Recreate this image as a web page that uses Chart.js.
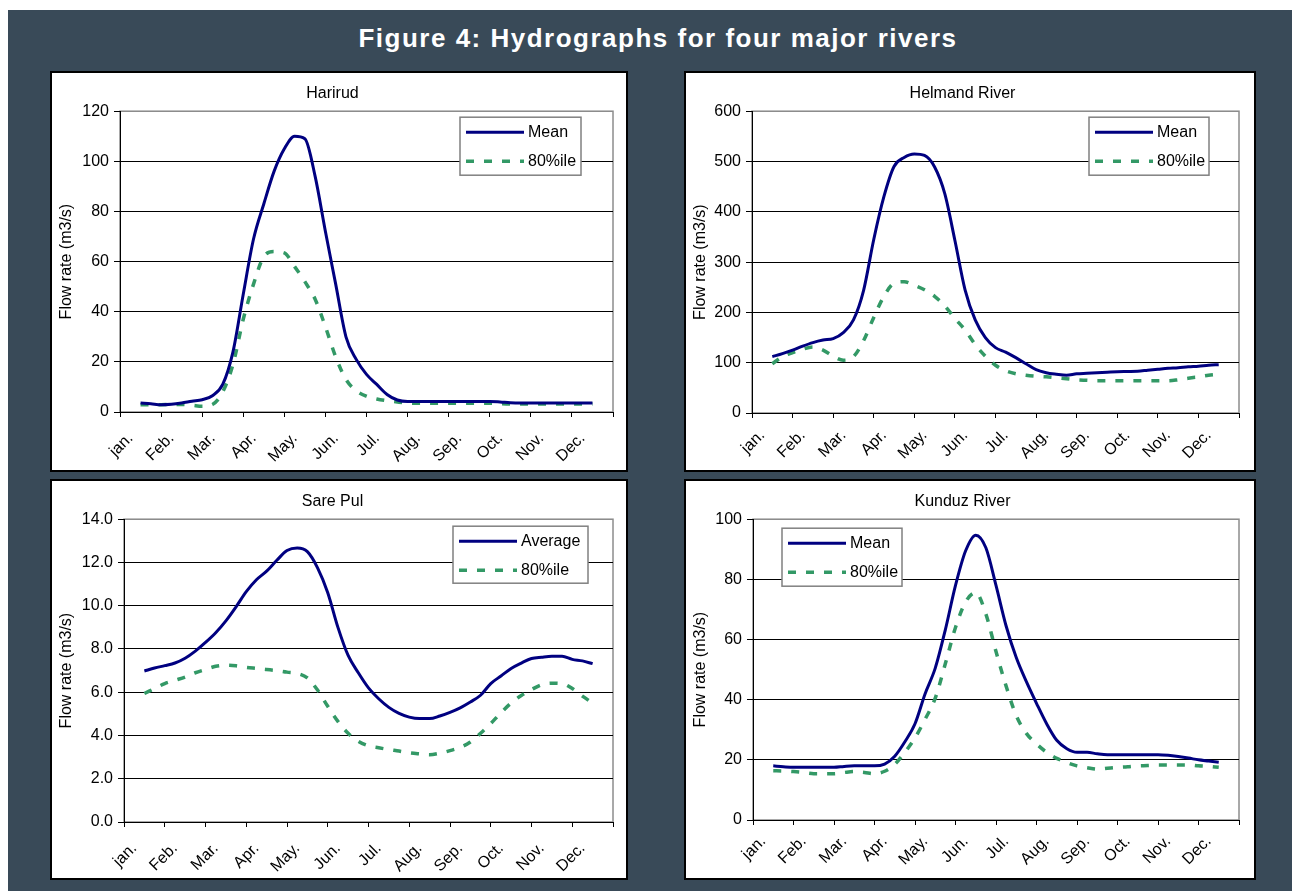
<!DOCTYPE html>
<html>
<head>
<meta charset="utf-8">
<script src="https://cdn.jsdelivr.net/npm/chart.js@4.4.0/dist/chart.umd.min.js"></script>
<style>
  body { margin: 0; background: #fff; width: 1292px; height: 891px; overflow: hidden; }
  #bg { position: absolute; left: 8px; top: 10px; width: 1284px; height: 881px; background: #394a58; }
  #figTitle { position: absolute; left: 8px; top: 23px; width: 1300px; text-align: center;
    font: bold 26px "Liberation Sans", Arial, sans-serif; letter-spacing: 1.5px; color: #fff; }
  .panel { position: absolute; background: #fff; border: 2px solid #000; }
  .panel canvas { display: block; }
</style>
</head>
<body>
<div id="bg"></div>
<div id="figTitle">Figure 4: Hydrographs for four major rivers</div>
<div class="panel" style="left:50px;top:71px;width:574px;height:397px"><canvas id="c1" width="574" height="397"></canvas></div>
<div class="panel" style="left:684px;top:71px;width:568px;height:397px"><canvas id="c2" width="568" height="397"></canvas></div>
<div class="panel" style="left:50px;top:479px;width:574px;height:397px"><canvas id="c3" width="574" height="397"></canvas></div>
<div class="panel" style="left:684px;top:479px;width:568px;height:397px"><canvas id="c4" width="568" height="397"></canvas></div>
<script>
// month labels, one per category (centred at x = n + 0.5)
const months = ['jan.', 'Feb.', 'Mar.', 'Apr.', 'May.', 'Jun.', 'Jul.', 'Aug.', 'Sep.', 'Oct.', 'Nov.', 'Dec.'];

// sample positions on the month axis (quarter-month steps, mid-Jan to mid-Dec)
const samplePos = [0.5, 0.75, 1, 1.25, 1.5, 1.75, 2, 2.25, 2.5, 2.75, 3, 3.25, 3.5, 3.75, 4, 4.25, 4.5, 4.75,
  5, 5.25, 5.5, 5.75, 6, 6.25, 6.5, 6.75, 7, 7.25, 7.5, 7.75, 8, 8.25, 8.5, 8.75, 9, 9.25, 9.5, 9.75,
  10, 10.25, 10.5, 10.75, 11, 11.25, 11.5];

// flow rates (m3/s)
const haririudMean = [3.6, 3.3, 2.9, 3.1, 3.6, 4.3, 4.9, 6.5, 11, 24, 47, 69, 83, 96, 105, 110, 109, 94,
  72, 51, 30, 21, 15, 11, 7, 4.8, 4.2, 4.2, 4.2, 4.2, 4.2, 4.2, 4.2, 4.2, 4.2, 4.0, 3.7, 3.6,
  3.6, 3.6, 3.6, 3.6, 3.6, 3.6, 3.6];
const haririudP80 = [2.9, 2.9, 2.9, 3.0, 3.0, 2.7, 2.3, 3.0, 8, 19, 37, 51, 62, 64, 63.5, 58, 52, 45,
  34, 22, 13, 8.5, 6.3, 5.2, 4.5, 4.0, 3.6, 3.5, 3.5, 3.5, 3.5, 3.5, 3.5, 3.5, 3.5, 3.3, 3.2, 3.2,
  3.2, 3.2, 3.2, 3.2, 3.2, 3.2, 3.2];

const helmandMean = [112, 118, 125, 133, 140, 145, 148, 160, 185, 244, 345, 430, 490, 508, 515, 512, 489, 436,
  343, 245, 185, 150, 130, 121, 110, 98, 86, 80, 77, 75, 78, 79, 80, 81, 82, 82.5, 83, 85,
  87, 89, 90, 92, 93, 95, 96];
const helmandP80 = [98, 112, 120, 127, 131, 125, 113, 105, 112, 144, 190, 232, 258, 261, 254, 245, 232, 213,
  188, 165, 136, 113, 95, 84, 78, 75, 73, 72, 70, 68, 66, 65, 64, 64, 64, 64, 64, 64,
  64, 64, 66, 69, 72, 75, 77];

const sarePulAvg = [6.98, 7.12, 7.23, 7.35, 7.57, 7.9, 8.3, 8.75, 9.3, 9.95, 10.65, 11.2, 11.6, 12.1, 12.55, 12.67, 12.5, 11.75,
  10.6, 9.0, 7.7, 6.9, 6.2, 5.7, 5.3, 5.02, 4.85, 4.78, 4.78, 4.9, 5.07, 5.28, 5.55, 5.86, 6.4, 6.75, 7.1, 7.35,
  7.56, 7.62, 7.66, 7.66, 7.52, 7.45, 7.32];
const sarePulP80 = [5.94, 6.17, 6.4, 6.55, 6.7, 6.9, 7.05, 7.2, 7.25, 7.22, 7.15, 7.1, 7.05, 7.0, 6.93, 6.87, 6.66, 6.1,
  5.35, 4.65, 4.1, 3.73, 3.52, 3.43, 3.35, 3.28, 3.2, 3.15, 3.11, 3.18, 3.3, 3.45, 3.7, 4.1, 4.55, 5.05, 5.5, 5.85,
  6.12, 6.35, 6.42, 6.4, 6.17, 5.82, 5.5];

const kunduzMean = [18.0, 17.7, 17.5, 17.5, 17.5, 17.5, 17.5, 17.8, 18.0, 18.0, 18.0, 18.6, 21.2, 26, 32, 42, 50.5, 63.3,
  78, 89.5, 94.7, 90.5, 78, 64.5, 54, 46, 38.8, 32, 26.5, 23.7, 22.5, 22.5, 22, 21.7, 21.7, 21.7, 21.7, 21.7,
  21.7, 21.5, 21.1, 20.6, 20.0, 19.6, 19.2];
const kunduzP80 = [16.4, 16.3, 16.1, 15.8, 15.4, 15.4, 15.4, 15.8, 16.1, 15.8, 15.4, 16.2, 18.5, 22.5, 27.3, 33.5, 40.5, 52,
  64, 72.5, 75.6, 68.5, 56, 44.5, 34.7, 28.8, 25.3, 22.5, 20.5, 19.1, 18.0, 17.4, 16.9, 17.2, 17.5, 17.7, 18.0, 18.1,
  18.3, 18.3, 18.3, 18.3, 18.0, 17.8, 17.5];

Chart.defaults.font.family = '"Liberation Sans", Arial, sans-serif';
Chart.defaults.color = '#000';

function pts(values) {
  return values.map((v, i) => ({ x: samplePos[i], y: v }));
}

// grey plot-area frame, drawn before the axes so the black axis lines sit on top
const frame = {
  id: 'frame',
  beforeDraw(chart) {
    const { ctx, chartArea: a } = chart;
    ctx.save();
    ctx.strokeStyle = '#8c8c8c';
    ctx.lineWidth = 1.5;
    ctx.strokeRect(a.left, a.top, a.right - a.left, a.bottom - a.top);
    ctx.restore();
  }
};

// Excel-style boxed legend inside the plot
const boxLegend = {
  id: 'boxLegend',
  afterDraw(chart, args, o) {
    const { ctx, chartArea: a } = chart;
    const x = a.left + o.x, y = a.top + o.y;
    ctx.save();
    ctx.fillStyle = '#fff';
    ctx.fillRect(x, y, o.w, o.h);
    ctx.strokeStyle = '#808080';
    ctx.lineWidth = 1.5;
    ctx.strokeRect(x, y, o.w, o.h);
    chart.data.datasets.forEach((ds, i) => {
      const cy = y + 15 + i * 29;
      ctx.beginPath();
      ctx.setLineDash(ds.borderDash || []);
      ctx.strokeStyle = ds.borderColor;
      ctx.lineWidth = ds.borderWidth;
      ctx.moveTo(x + 6, cy);
      ctx.lineTo(x + 64, cy);
      ctx.stroke();
      ctx.setLineDash([]);
      ctx.fillStyle = '#000';
      ctx.font = '16px "Liberation Sans", Arial, sans-serif';
      ctx.textBaseline = 'middle';
      ctx.fillText(ds.label, x + 68, cy);
    });
    ctx.restore();
  }
};

function makeChart(id, p) {
  new Chart(document.getElementById(id), {
    type: 'line',
    data: {
      datasets: [
        { label: p.names[0], data: pts(p.a), borderColor: '#000080', borderWidth: 3,
          pointRadius: 0, cubicInterpolationMode: 'monotone' },
        { label: p.names[1], data: pts(p.b), borderColor: '#339966', borderWidth: 3.5, borderDash: [8, 10],
          pointRadius: 0, cubicInterpolationMode: 'monotone' }
      ]
    },
    options: {
      responsive: false,
      animation: false,
      layout: { padding: { top: 0, right: p.padRight, bottom: 0, left: 0 } },
      plugins: {
        legend: { display: false },
        tooltip: { enabled: false },
        title: { display: true, text: p.title, font: { size: 16, weight: 'normal' }, padding: { top: 11, bottom: 8 } },
        boxLegend: p.legend
      },
      scales: {
        x: {
          type: 'linear', min: 0, max: 12,
          afterFit: s => { s.height = p.xHeight; s.paddingLeft = 0; s.paddingRight = 0; },
          border: { color: '#000', width: 1 },
          grid: {
            drawOnChartArea: false, tickLength: 5,
            tickColor: c => (c.tick && c.tick.value % 1 === 0 ? '#000' : 'rgba(0,0,0,0)')
          },
          ticks: {
            stepSize: 0.5, autoSkip: false, maxRotation: 45, minRotation: 45, labelOffset: -10, padding: p.labelPad,
            font: { size: 16 },
            callback: v => (v % 1 === 0.5 ? months[Math.floor(v)] : '')
          }
        },
        y: {
          min: 0, max: p.max,
          afterFit: s => { s.width = p.yWidth; },
          border: { color: '#000', width: 1 },
          grid: { color: c => (c.tick.value === p.max ? '#8c8c8c' : '#000'), tickLength: 6, tickColor: '#000' },
          ticks: { stepSize: p.step, padding: 5, font: { size: 16 },
            callback: v => (p.decimals ? v.toFixed(1) : v) },
          title: { display: true, text: 'Flow rate (m3/s)', font: { size: 16 }, padding: { top: 5, bottom: 0 } }
        }
      }
    },
    plugins: [frame, boxLegend]
  });
}

makeChart('c1', { title: 'Harirud', names: ['Mean', '80%ile'], a: haririudMean, b: haririudP80,
  max: 120, step: 20, decimals: false, yWidth: 68, padRight: 13, xHeight: 58, labelPad: 12,
  legend: { x: 340, y: 6, w: 121, h: 58 } });
makeChart('c2', { title: 'Helmand River', names: ['Mean', '80%ile'], a: helmandMean, b: helmandP80,
  max: 600, step: 100, decimals: false, yWidth: 66, padRight: 15, xHeight: 57, labelPad: 8,
  legend: { x: 337, y: 6, w: 120, h: 58 } });
makeChart('c3', { title: 'Sare Pul', names: ['Average', '80%ile'], a: sarePulAvg, b: sarePulP80,
  max: 14, step: 2, decimals: true, yWidth: 72, padRight: 13, xHeight: 56, labelPad: 12,
  legend: { x: 329, y: 7, w: 135, h: 57 } });
makeChart('c4', { title: 'Kunduz River', names: ['Mean', '80%ile'], a: kunduzMean, b: kunduzP80,
  max: 100, step: 20, decimals: false, yWidth: 67, padRight: 15, xHeight: 58, labelPad: 7,
  legend: { x: 29, y: 9, w: 120, h: 58 } });
</script>
</body>
</html>
